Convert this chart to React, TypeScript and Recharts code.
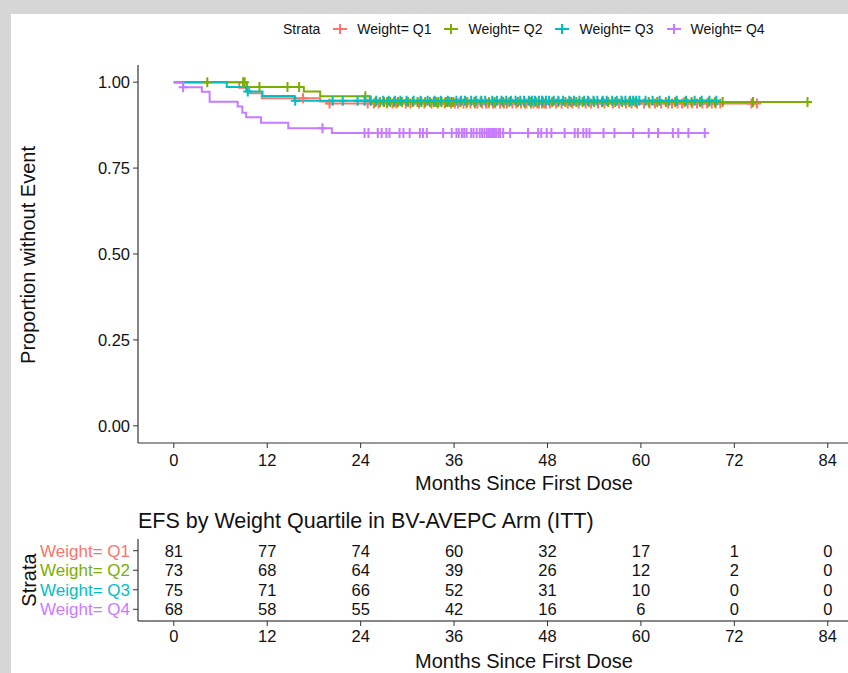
import { ComposedChart, Line, Scatter, XAxis, YAxis } from "recharts";

// axis ticks
const monthTicks = [0, 12, 24, 36, 48, 60, 72, 84];
const propTicks = [0, 0.25, 0.5, 0.75, 1];

const strataLabels = ["Weight= Q1", "Weight= Q2", "Weight= Q3", "Weight= Q4"];
const strataColors = ["#F8766D", "#7CAE00", "#00BFC4", "#C77CFF"];

// KM step points (event times + survival)
const q1Times = [0, 8.4, 9.7, 11.3, 18.8, 19.7];
const q1Surv = [1, 0.984, 0.968, 0.953, 0.944, 0.938];
const q1End = 74.9;

const q2Times = [0, 9.4, 16.7, 18.8, 25.2];
const q2Surv = [1, 0.986, 0.973, 0.959, 0.942];
const q2End = 81.4;

const q3Times = [0, 6.8, 9.3, 11.4, 15.5];
const q3Surv = [1, 0.986, 0.973, 0.96, 0.946];
const q3End = 69.7;

const q4Times = [0, 1.2, 3.6, 4.6, 8.2, 8.8, 9.3, 11.2, 14.7, 20.3];
const q4Surv = [1, 0.985, 0.972, 0.943, 0.929, 0.911, 0.898, 0.882, 0.866, 0.852];
const q4End = 68.2;

// censoring times
const q1Censor = [
  16.6, 20.0, 24.9, 25.7, 26.3, 27.4, 28.1, 28.6, 29.8, 30.4, 31.5, 32.2, 33.1, 33.9, 34.8, 35.6,
  36.1, 36.5, 37.2, 37.6, 38.1, 38.7, 39.0, 39.6, 40.1, 40.4, 41.0, 41.3, 41.9, 42.4, 42.8, 43.5,
  44.0, 44.6, 45.1, 45.3, 45.9, 46.2, 46.7, 46.9, 47.3, 47.6, 47.8, 48.3, 49.1, 49.8, 50.6, 51.2,
  52.0, 52.9, 53.6, 54.5, 55.3, 56.4, 57.2, 58.1, 58.8, 59.5, 60.4, 61.1, 61.8, 62.6, 63.5, 64.0,
  64.7, 65.3, 66.0, 66.6, 67.2, 67.9, 68.5, 69.1, 69.6, 70.2, 74.2, 74.9,
];
const q2Censor = [
  4.3, 8.9, 9.1, 11.0, 14.6, 16.1, 24.6, 25.9, 26.5, 27.0, 27.4, 27.8, 28.3, 28.8, 29.3, 30.1,
  30.7, 31.3, 31.8, 32.3, 32.9, 33.4, 33.7, 34.0, 34.4, 34.9, 35.1, 35.4, 35.7, 35.9, 36.8, 37.7,
  38.6, 39.4, 40.5, 41.2, 42.3, 43.1, 44.2, 45.0, 45.8, 46.5, 47.4, 48.6, 49.4, 50.3, 51.0, 51.7,
  52.5, 53.3, 54.0, 55.0, 55.8, 56.7, 57.6, 58.5, 59.3, 61.0, 62.1, 63.2, 64.4, 65.6, 66.5, 67.6,
  68.7, 69.5, 70.5, 74.4, 81.4,
];
const q3Censor = [
  9.5, 15.6, 20.4, 21.7, 23.6, 24.5, 25.3, 26.0, 26.9, 27.6, 28.4, 29.1, 29.9, 30.8, 31.7, 32.6,
  33.5, 34.3, 35.2, 36.3, 36.9, 37.4, 38.2, 38.8, 39.5, 40.0, 40.9, 41.5, 42.1, 42.7, 43.3, 43.9,
  44.5, 45.0, 45.6, 46.0, 46.4, 46.9, 47.3, 47.8, 48.2, 48.8, 49.4, 50.0, 50.8, 51.4, 52.1, 52.7,
  53.2, 53.9, 54.4, 55.1, 55.6, 56.3, 56.9, 57.5, 58.0, 58.6, 59.0, 59.4, 59.8, 60.6, 61.5, 62.4,
  63.6, 64.6, 65.8, 66.9, 67.8, 68.8, 69.7,
];
const q4Censor = [
  1.2, 19.1, 24.5, 25.0, 26.2, 26.7, 27.3, 27.7, 29.0, 29.5, 30.3, 31.6, 32.0, 32.5, 34.6, 35.7,
  36.3, 36.6, 37.0, 37.3, 37.6, 38.2, 38.5, 38.9, 39.3, 39.6, 39.9, 40.2, 40.4, 40.6, 40.8, 41.0,
  41.2, 41.4, 41.7, 41.9, 42.3, 43.2, 45.5, 46.8, 47.2, 47.9, 48.5, 50.2, 51.5, 51.9, 52.6, 53.0,
  53.4, 55.2, 56.6, 59.0, 61.0, 62.2, 64.1, 64.8, 66.1, 68.2,
];

// numbers at risk
const riskQ1 = [81, 77, 74, 60, 32, 17, 1, 0];
const riskQ2 = [73, 68, 64, 39, 26, 12, 2, 0];
const riskQ3 = [75, 71, 66, 52, 31, 10, 0, 0];
const riskQ4 = [68, 58, 55, 42, 16, 6, 0, 0];

const FONT = "'Liberation Sans', Arial, Helvetica, sans-serif";
const X_DOMAIN = [-4.6, 86.6];

function survAt(times: number[], surv: number[], t: number) {
  let s = surv[0];
  for (let i = 0; i < times.length; i++) if (times[i] <= t) s = surv[i];
  return s;
}

function curve(times: number[], surv: number[], end: number) {
  const pts = times.map((t, i) => ({ t, s: surv[i] }));
  pts.push({ t: end, s: surv[surv.length - 1] });
  return pts;
}

const strata = [
  { curve: curve(q1Times, q1Surv, q1End), censor: q1Censor.map((t) => ({ t, s: survAt(q1Times, q1Surv, t) })) },
  { curve: curve(q2Times, q2Surv, q2End), censor: q2Censor.map((t) => ({ t, s: survAt(q2Times, q2Surv, t) })) },
  { curve: curve(q3Times, q3Surv, q3End), censor: q3Censor.map((t) => ({ t, s: survAt(q3Times, q3Surv, t) })) },
  { curve: curve(q4Times, q4Surv, q4End), censor: q4Censor.map((t) => ({ t, s: survAt(q4Times, q4Surv, t) })) },
];

const riskRows = [riskQ1, riskQ2, riskQ3, riskQ4];
const riskData = riskRows.flatMap((row, r) => row.map((n, i) => ({ t: monthTicks[i], row: r, n })));

const makeCross = (color: string) => (props: any) => {
  const { cx, cy } = props;
  if (cx == null || cy == null) return <g />;
  return <path d={`M${cx - 4.5},${cy}h9M${cx},${cy - 5}v10`} stroke={color} strokeWidth={2} fill="none" />;
};

const RiskCell = (props: any) => {
  const { cx, cy, payload } = props;
  return (
    <text x={cx} y={cy} dy="0.36em" textAnchor="middle" fontSize={16.5} fill="#111">
      {payload.n}
    </text>
  );
};

const StrataTick = (props: any) => {
  const { x, y, payload } = props;
  const i = payload.value;
  return (
    <text x={x} y={y} dy="0.36em" textAnchor="end" fontSize={17} fill={strataColors[i]}>
      {strataLabels[i]}
    </text>
  );
};

const tickStyle = { fill: "#111", fontSize: 16.5 };

export default function App() {
  return (
    <div
      style={{
        position: "absolute",
        left: 0,
        top: 0,
        width: 848,
        height: 673,
        background: "#d6d6d6",
        overflow: "hidden",
        fontFamily: FONT,
      }}
    >
      <div style={{ position: "absolute", left: 11, top: 14, right: 0, bottom: 0, background: "#fff" }} />

      {/* legend */}
      <div
        style={{
          position: "absolute",
          left: 283,
          top: 20,
          height: 18,
          display: "flex",
          alignItems: "center",
          fontSize: 14,
          color: "#111",
          whiteSpace: "nowrap",
        }}
      >
        <span style={{ marginRight: 13 }}>Strata</span>
        {strataLabels.map((lab, i) => (
          <span key={lab} style={{ display: "flex", alignItems: "center", marginRight: 13 }}>
            <svg width={14} height={14} style={{ marginRight: 10 }}>
              <path d="M0,7h14M7,2v10" stroke={strataColors[i]} strokeWidth={2} />
            </svg>
            {lab}
          </span>
        ))}
      </div>

      {/* survival curves */}
      <div style={{ position: "absolute", left: 0, top: 0 }}>
        <ComposedChart width={848} height={500} margin={{ top: 65, right: 0, left: 0, bottom: 0 }}>
          <XAxis
            type="number"
            dataKey="t"
            domain={X_DOMAIN}
            ticks={monthTicks}
            interval={0}
            allowDataOverflow
            height={57}
            tickSize={5}
            tickMargin={6}
            tick={tickStyle}
            axisLine={{ stroke: "#333", strokeWidth: 1.2 }}
            tickLine={{ stroke: "#333" }}
          />
          <YAxis
            type="number"
            dataKey="s"
            domain={[-0.05, 1.05]}
            ticks={propTicks}
            interval={0}
            allowDataOverflow
            width={138}
            tickSize={5}
            tickMargin={3}
            tick={tickStyle}
            tickFormatter={(v: number) => v.toFixed(2)}
            axisLine={{ stroke: "#333", strokeWidth: 1.2 }}
            tickLine={{ stroke: "#333" }}
          />
          {strata.map((st, i) => (
            <Line
              key={"l" + i}
              data={st.curve}
              dataKey="s"
              type="stepAfter"
              stroke={strataColors[i]}
              strokeWidth={2}
              dot={false}
              activeDot={false}
              isAnimationActive={false}
            />
          ))}
          {strata.map((st, i) => (
            <Scatter
              key={"c" + i}
              data={st.censor}
              dataKey="s"
              fill={strataColors[i]}
              shape={makeCross(strataColors[i])}
              isAnimationActive={false}
            />
          ))}
        </ComposedChart>
      </div>

      <div
        style={{
          position: "absolute",
          left: 28 - 150,
          top: 255 - 12,
          width: 300,
          height: 24,
          lineHeight: "24px",
          textAlign: "center",
          fontSize: 20,
          color: "#111",
          transform: "rotate(-90deg)",
        }}
      >
        Proportion without Event
      </div>
      <div
        style={{
          position: "absolute",
          left: 524 - 200,
          top: 483 - 12,
          width: 400,
          lineHeight: "24px",
          textAlign: "center",
          fontSize: 20,
          color: "#111",
        }}
      >
        Months Since First Dose
      </div>

      {/* risk table */}
      <div
        style={{
          position: "absolute",
          left: 138,
          top: 521 - 14,
          lineHeight: "28px",
          fontSize: 21.5,
          color: "#111",
          whiteSpace: "nowrap",
        }}
      >
        EFS by Weight Quartile in BV-AVEPC Arm (ITT)
      </div>
      <div style={{ position: "absolute", left: 0, top: 500 }}>
        <ComposedChart width={848} height={173} margin={{ top: 39, right: 0, left: 0, bottom: 22 }}>
          <XAxis
            type="number"
            dataKey="t"
            domain={X_DOMAIN}
            ticks={monthTicks}
            interval={0}
            allowDataOverflow
            height={30}
            tickSize={5}
            tickMargin={4}
            tick={tickStyle}
            axisLine={{ stroke: "#111", strokeWidth: 1.2 }}
            tickLine={{ stroke: "#333" }}
          />
          <YAxis
            type="number"
            dataKey="row"
            domain={[-0.6, 3.6]}
            reversed
            ticks={[0, 1, 2, 3]}
            interval={0}
            width={138}
            tickSize={5}
            tickMargin={3}
            tick={<StrataTick />}
            axisLine={{ stroke: "#333", strokeWidth: 1.2 }}
            tickLine={{ stroke: "#333" }}
          />
          <Scatter data={riskData} dataKey="row" shape={RiskCell} isAnimationActive={false} />
        </ComposedChart>
      </div>
      <div
        style={{
          position: "absolute",
          left: 29 - 60,
          top: 580 - 12,
          width: 120,
          lineHeight: "24px",
          textAlign: "center",
          fontSize: 20,
          color: "#111",
          transform: "rotate(-90deg)",
        }}
      >
        Strata
      </div>
      <div
        style={{
          position: "absolute",
          left: 524 - 200,
          top: 661 - 12,
          width: 400,
          lineHeight: "24px",
          textAlign: "center",
          fontSize: 20,
          color: "#111",
        }}
      >
        Months Since First Dose
      </div>
    </div>
  );
}
